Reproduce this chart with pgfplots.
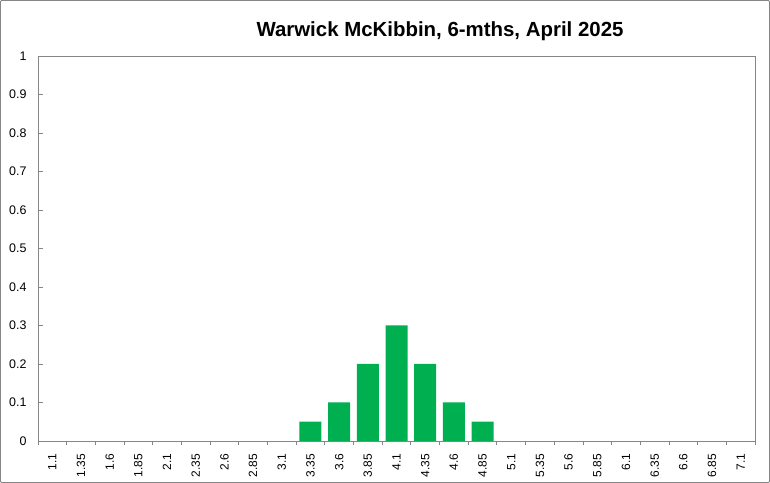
\documentclass[border=0pt]{standalone}
\usepackage{pgfplots}
\pgfplotsset{compat=1.18}
\usepackage{fontspec}
\setmainfont{Liberation Sans}
\definecolor{barg}{HTML}{00B050}
\definecolor{axg}{HTML}{868686}
\begin{document}
\begin{tikzpicture}[x=1bp,y=1bp]
\useasboundingbox (0,0) rectangle (770,483);
\draw[axg, line width=0.8bp, rounded corners=1bp] (0.5,0.5) rectangle (769.5,482.5);
\node[font=\fontsize{20.5}{24}\selectfont\bfseries] at (440,452) {Warwick McKibbin, 6-mths, April 2025};
\begin{axis}[
  at={(38bp,42bp)}, anchor=south west,
  width=717bp, height=385bp, scale only axis,
  ymin=0, ymax=1, ytick={0,0.1,...,1},
  xmin=-0.5, xmax=24.5,
  xtick={-0.5,0.5,...,24.5},
  x tick label as interval,
  xticklabels={1.1,1.35,1.6,1.85,2.1,2.35,2.6,2.85,3.1,3.35,3.6,3.85,4.1,4.35,4.6,4.85,5.1,5.35,5.6,5.85,6.1,6.35,6.6,6.85,7.1},
  x tick label style={rotate=90, anchor=east, font=\fontsize{12}{14}\selectfont},
  xticklabel shift=5bp,
  y tick label style={font=\fontsize{12.5}{14}\selectfont},
  yticklabel shift=8bp,
  /pgf/number format/assume math mode=true,
  yticklabel style={/pgf/number format/fixed},
  tick align=inside, major tick length=4.5bp,
  axis line style={axg, line width=0.8bp},
  tick style={axg, line width=0.8bp},
  axis x line*=bottom, axis y line*=left,
  ybar, bar width=22bp,
  clip=false,
]
\draw[axg, line width=0.8bp] (rel axis cs:0,1) -- (rel axis cs:1,1) -- (rel axis cs:1,0);
\addplot[fill=barg, draw=none] coordinates {
(9,0.05) (10,0.1) (11,0.2) (12,0.3) (13,0.2) (14,0.1) (15,0.05)};
\end{axis}
\end{tikzpicture}
\end{document}
